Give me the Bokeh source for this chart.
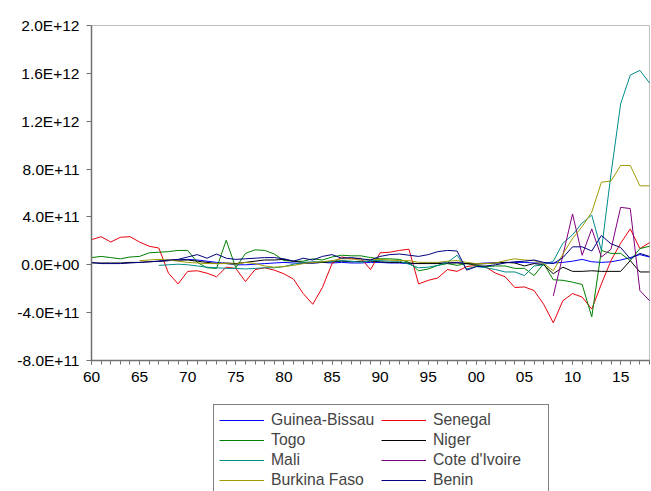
import math
from bokeh.plotting import figure
from bokeh.models import (FixedTicker, Legend, LegendItem, Range1d,
                          ColumnDataSource, BoxAnnotation)
from bokeh.embed import file_html
from bokeh.resources import INLINE

NA = float("nan")
SCALE = 1e11  # values below are in units of 1.0E+11

years = list(range(1960, 2019))

guinea_bissau = [NA]*7 + [
    0.3, 0.35, 0.4,
    0.45, 0.4, 0.3, 0.2, 0.1, 0.0, 0.0, 0.05, 0.1, 0.15,
    0.2, 0.15, 0.1, 0.15, 0.2, 0.15, 0.2, 0.15, 0.15, 0.2,
    0.2, 0.15, 0.15, 0.1, 0.1, 0.15, 0.15, 0.15, 0.2, 0.1,
    0.1, 0.15, 0.15, 0.2, 0.2, 0.2, 0.15, 0.15, 0.15, 0.2,
    0.3, 0.45, 0.25, 0.2, 0.25, 0.4, 0.6, 0.85, 0.65]

senegal = [
    2.1, 2.35, 1.9, 2.3, 2.35, 1.9, 1.55, 1.4, -0.7, -1.6,
    -0.55, -0.5, -0.7, -1.0, -0.2, -0.3, -1.4, -0.4, -0.25, -0.45,
    -0.75, -1.2, -2.4, -3.3, -1.9, 0.1, 0.65, 0.5, 0.55, -0.4,
    1.0, 1.05, 1.2, 1.3, -1.6, -1.3, -1.1, -0.4, -0.55, -0.15,
    -0.05, -0.2, -0.7, -1.0, -1.9, -1.85, -2.15, -3.3, -4.85, -3.0,
    -2.4, -2.7, -3.7, -1.6, 0.35, 1.8, 3.0, 1.35, 1.85]

togo = [
    0.6, 0.7, 0.6, 0.5, 0.65, 0.7, 1.0, 1.05, 1.1, 1.2,
    1.2, 0.2, -0.25, -0.3, 2.05, -0.25, 0.95, 1.25, 1.2, 0.9,
    0.35, 0.3, 0.3, 0.5, 0.4, 0.65, 0.8, 0.75, 0.75, 0.6,
    0.5, 0.5, 0.45, 0.2, -0.5, -0.35, -0.05, 0.1, -0.05, 0.1,
    -0.05, -0.15, -0.1, -0.1, -0.3, -0.3, -0.9, 0.1, -1.25, -1.3,
    -1.45, -1.65, -4.35, 1.2, 0.95, 0.95, 0.35, 1.35, 1.55]

niger = [
    0.15, 0.15, 0.15, 0.15, 0.2, 0.2, 0.25, 0.3, 0.35, 0.4,
    0.4, 0.3, 0.2, 0.1, 0.15, 0.1, 0.2, 0.3, 0.4, 0.4,
    0.45, 0.3, 0.2, 0.15, 0.2, 0.25, 0.3, 0.25, 0.3, 0.3,
    0.25, 0.2, 0.2, 0.15, 0.1, 0.1, 0.1, 0.15, 0.15, 0.1,
    0.05, 0.1, 0.15, 0.2, 0.15, -0.1, 0.1, 0.0, -0.75, -0.2,
    -0.55, -0.55, -0.5, -0.55, -0.55, -0.55, 0.35, -0.6, -0.6]

mali = [NA]*7 + [
    -0.05, 0.0, 0.05,
    0.0, -0.1, -0.2, -0.25, -0.3, -0.3, -0.35, -0.3, -0.25, -0.25,
    -0.15, 0.05, 0.2, 0.25, 0.25, 0.3, 0.35, 0.3, 0.2, 0.35,
    0.35, 0.3, 0.3, 0.05, -0.25, -0.2, -0.05, 0.2, 0.8, -0.35,
    -0.15, -0.25, -0.4, -0.6, -0.6, -0.9, -0.1, 0.0, 0.3, 1.8,
    2.5, 3.5, 4.15, 1.2, 7.6, 13.45, 15.85, 16.25, 15.2]

cote_divoire = [NA]*48 + [
    -2.6, 0.8,
    4.25, 0.8, 3.0, 0.65, 1.3, 4.8, 4.7, -2.15, -3.0]

burkina_faso = [NA]*5 + [
    0.35, 0.4, 0.45, 0.4, 0.3,
    0.2, 0.15, 0.1, 0.1, 0.1, 0.05, 0.2, 0.1, -0.1, -0.2,
    -0.15, -0.05, 0.1, 0.2, 0.25, 0.35, 0.5, 0.5, 0.4, 0.45,
    0.45, 0.4, 0.35, 0.35, 0.2, 0.2, 0.2, 0.3, 0.35, 0.2,
    0.1, 0.1, 0.15, 0.35, 0.5, 0.4, 0.35, 0.1, -0.5, 0.9,
    2.2, 3.2, 4.4, 6.9, 7.0, 8.3, 8.3, 6.6, 6.6]

benin = [
    0.2, 0.1, 0.1, 0.1, 0.15, 0.2, 0.25, 0.3, 0.4, 0.45,
    0.65, 0.85, 0.55, 0.9, 0.55, 0.45, 0.5, 0.55, 0.6, 0.6,
    0.5, 0.3, 0.55, 0.4, 0.7, 0.85, 0.55, 0.6, 0.5, 0.4,
    0.7, 0.85, 0.9, 0.8, 0.7, 0.85, 1.1, 1.2, 1.15, -0.45,
    -0.15, -0.1, 0.0, 0.15, 0.25, 0.3, 0.4, 0.2, 0.1, 0.6,
    1.5, 1.5, 1.15, 2.45, 1.75, 1.45, 0.5, 0.95, 0.7]

series_names = ["Guinea-Bissau", "Senegal", "Togo", "Niger",
                "Mali", "Cote d'Ivoire", "Burkina Faso", "Benin"]
series_values = [guinea_bissau, senegal, togo, niger,
                 mali, cote_divoire, burkina_faso, benin]
series_colors = ["#0000FF", "#E8000B", "#008000", "#000000",
                 "#008B8B", "#800080", "#A09A00", "#000080"]

y_ticks = [-8e11, -4e11, 0.0, 4e11, 8e11, 1.2e12, 1.6e12, 2.0e12]
y_tick_labels = ["-8.0E+11", "-4.0E+11", "0.0E+00", "4.0E+11",
                 "8.0E+11", "1.2E+12", "1.6E+12", "2.0E+12"]
x_ticks = list(range(1960, 2019, 5))
x_tick_labels = ["60", "65", "70", "75", "80", "85", "90", "95",
                 "00", "05", "10", "15"]

# ---- layout in pixels (the frame covers the whole canvas) ----
W, H = 651, 491
BOX_L, BOX_R, BOX_T, BOX_B = 91, 649, 25, 360      # plot box
X0, X1 = years[0], years[-1]
Y_MIN, Y_MAX = y_ticks[0], y_ticks[-1]
xpp = (X1 - X0) / (BOX_R - BOX_L)
ypp = (Y_MAX - Y_MIN) / (BOX_B - BOX_T)
x_start, x_end = X0 - BOX_L * xpp, X1 + (W - BOX_R) * xpp
y_end, y_start = Y_MAX + BOX_T * ypp, Y_MAX - (H - BOX_T) * ypp

p = figure(width=W, height=H, output_backend="svg", toolbar_location=None,
           x_range=Range1d(x_start, x_end), y_range=Range1d(y_start, y_end),
           min_border=0)
p.xgrid.visible = False
p.ygrid.visible = False
p.outline_line_color = None
p.background_fill_color = "white"
p.border_fill_color = "white"

# plot box
p.add_layout(BoxAnnotation(left=X0, right=X1, bottom=Y_MIN, top=Y_MAX,
                           fill_alpha=0, line_color="#303030", line_width=1,
                           level="underlay"))

renderers = {}
for name, vals, col in zip(series_names, series_values, series_colors):
    assert len(vals) == len(years), name
    src = ColumnDataSource(dict(x=years, y=[v * SCALE for v in vals]))
    renderers[name] = p.line("x", "y", source=src, line_color=col, line_width=1)

p.yaxis.ticker = FixedTicker(ticks=y_ticks, minor_ticks=[])
p.yaxis.major_label_overrides = {t: l for t, l in zip(y_ticks, y_tick_labels)}
p.yaxis.bounds = (Y_MIN, Y_MAX)
p.yaxis.fixed_location = X0
p.xaxis.ticker = FixedTicker(ticks=x_ticks, minor_ticks=years)
p.xaxis.major_label_overrides = {t: l for t, l in zip(x_ticks, x_tick_labels)}
p.xaxis.bounds = (X0, X1)
p.xaxis.fixed_location = Y_MIN

for ax in (p.xaxis[0], p.yaxis[0]):
    ax.axis_line_color = "#707070"
    ax.axis_line_width = 1.5
    ax.major_tick_line_color = "#707070"
    ax.minor_tick_line_color = "#707070"
    ax.major_tick_in = 0
    ax.minor_tick_in = 0
    ax.major_label_text_font = "Liberation Sans"
    ax.major_label_text_font_size = "15.5px"
    ax.major_label_text_color = "black"
p.yaxis.major_tick_out = 5
p.yaxis.major_label_standoff = 7
p.xaxis.major_tick_out = 4
p.xaxis.minor_tick_out = 4
p.xaxis.major_label_standoff = 7

# legend (two columns, filled column by column)
legend_order = ["Guinea-Bissau", "Togo", "Mali", "Burkina Faso",
                "Senegal", "Niger", "Cote d'Ivoire", "Benin"]
items = [LegendItem(label=n, renderers=[renderers[n]]) for n in legend_order]
legend = Legend(items=items, location=(213, -5), orientation="vertical", ncols=2,
                padding=5, spacing=0, margin=0, glyph_width=45, glyph_height=20,
                label_height=20, label_width=110, label_standoff=7,
                label_text_font="Liberation Sans", label_text_font_size="15.75px",
                border_line_color="black", border_line_width=1,
                background_fill_color="white", background_fill_alpha=1)
p.add_layout(legend, "center")

open("out.html", "w").write(file_html(p, INLINE))
